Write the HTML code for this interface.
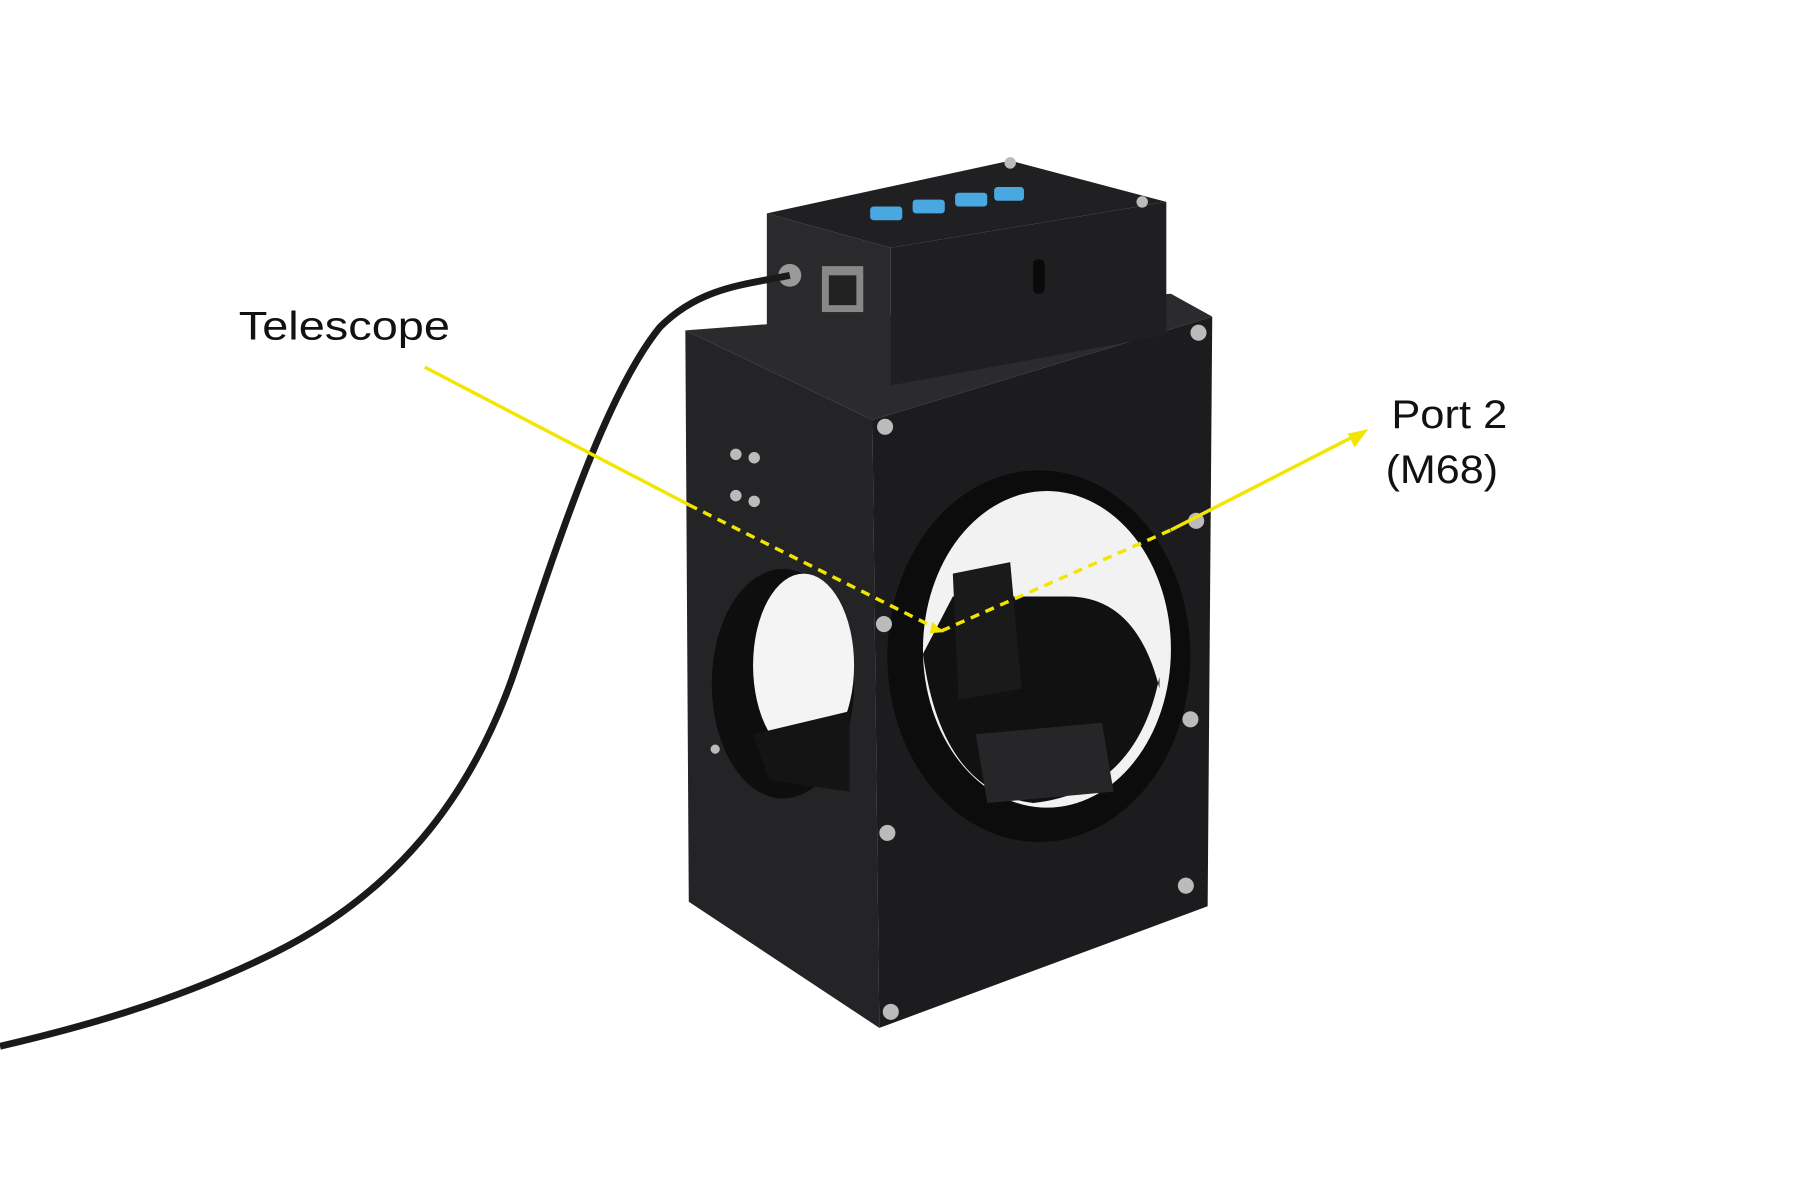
<!DOCTYPE html>
<html><head><meta charset="utf-8"><style>
html,body{margin:0;padding:0;background:#fff;width:1800px;height:1200px;overflow:hidden}
svg{display:block}
text{font-family:"Liberation Sans",sans-serif;fill:#111}
</style></head><body>
<svg width="1800" height="1200" viewBox="0 0 1568 1046" preserveAspectRatio="none" xmlns="http://www.w3.org/2000/svg">
<rect width="1568" height="1046" fill="#fff"/>
<!-- main body top face -->
<polygon points="597,288 1020,256 1056,276 760,366" fill="#2b2b2d"/>
<!-- left face -->
<polygon points="597,288 760,366 766,896 600,786" fill="#242426"/>
<!-- front face -->
<polygon points="760,366 1056,276 1052,790 766,896" fill="#1c1c1e"/>
<!-- left hole -->
<ellipse cx="682" cy="596" rx="62" ry="100" fill="#0e0e0f"/>
<ellipse cx="700" cy="580" rx="44" ry="80" fill="#f4f4f4"/>
<path d="M656,640 L740,620 L740,690 L670,680 Z" fill="#141415"/>
<!-- big ring -->
<ellipse cx="905" cy="572" rx="132" ry="162" fill="#0c0c0d"/>
<ellipse cx="912" cy="566" rx="108" ry="138" fill="#f2f2f2"/>
<path d="M804,570 Q820,690 900,700 Q990,690 1010,590 L1010,600 Q990,520 930,520 L830,520 Z" fill="#111112"/>
<polygon points="830,500 880,490 890,600 835,610" fill="#1a1a1b"/>
<polygon points="850,640 960,630 970,690 860,700" fill="#262628"/>
<!-- controller box -->
<polygon points="668,186 880,140 1016,176 776,216" fill="#202022"/>
<polygon points="668,186 776,216 776,336 668,300" fill="#2a2a2c"/>
<polygon points="776,216 1016,176 1016,292 776,336" fill="#1f1f21"/>
<g fill="#4aa8e0">
<rect x="758" y="180" width="28" height="12" rx="3"/><rect x="795" y="174" width="28" height="12" rx="3"/>
<rect x="832" y="168" width="28" height="12" rx="3"/><rect x="866" y="163" width="26" height="12" rx="3"/>
</g>
<rect x="716" y="232" width="36" height="40" fill="#888"/><rect x="722" y="240" width="24" height="26" fill="#222"/>
<circle cx="688" cy="240" r="10" fill="#999"/>
<rect x="900" y="226" width="10" height="30" rx="4" fill="#0a0a0a"/>
<!-- screws -->
<g fill="#bbb">
<circle cx="771" cy="372" r="7"/><circle cx="1044" cy="290" r="7"/><circle cx="1042" cy="454" r="7"/>
<circle cx="770" cy="544" r="7"/><circle cx="1037" cy="627" r="7"/><circle cx="773" cy="726" r="7"/>
<circle cx="1033" cy="772" r="7"/><circle cx="776" cy="882" r="7"/><circle cx="880" cy="142" r="5"/>
<circle cx="641" cy="396" r="5"/><circle cx="657" cy="399" r="5"/><circle cx="641" cy="432" r="5"/><circle cx="657" cy="437" r="5"/>
<circle cx="623" cy="653" r="4"/><circle cx="995" cy="176" r="5"/>
</g>
<!-- cable -->
<path d="M688,240 C650,248 610,250 575,285 C530,340 490,460 450,580 C410,700 340,780 240,830 C150,875 60,898 0,912" fill="none" stroke="#1a1a1a" stroke-width="6"/>
<!-- yellow lines -->
<g stroke="#f2e600" stroke-width="3" fill="none">
<line x1="370" y1="320" x2="600" y2="440"/>
<line x1="600" y1="440" x2="820" y2="550" stroke-dasharray="8,6"/>
<line x1="820" y1="550" x2="1020" y2="462" stroke-dasharray="8,6"/>
<line x1="1020" y1="462" x2="1180" y2="380"/>
</g>
<polygon points="1192,374 1174,378 1180,390" fill="#f2e600"/>
<polygon points="822,551 812,542 810,552" fill="#f2e600"/>
<text x="208" y="296" font-size="35" textLength="184" lengthAdjust="spacingAndGlyphs">Telescope</text>
<text x="1212" y="373" font-size="35" textLength="101" lengthAdjust="spacingAndGlyphs">Port 2</text>
<text x="1207" y="421" font-size="35" textLength="98" lengthAdjust="spacingAndGlyphs">(M68)</text>
</svg>
</body></html>
